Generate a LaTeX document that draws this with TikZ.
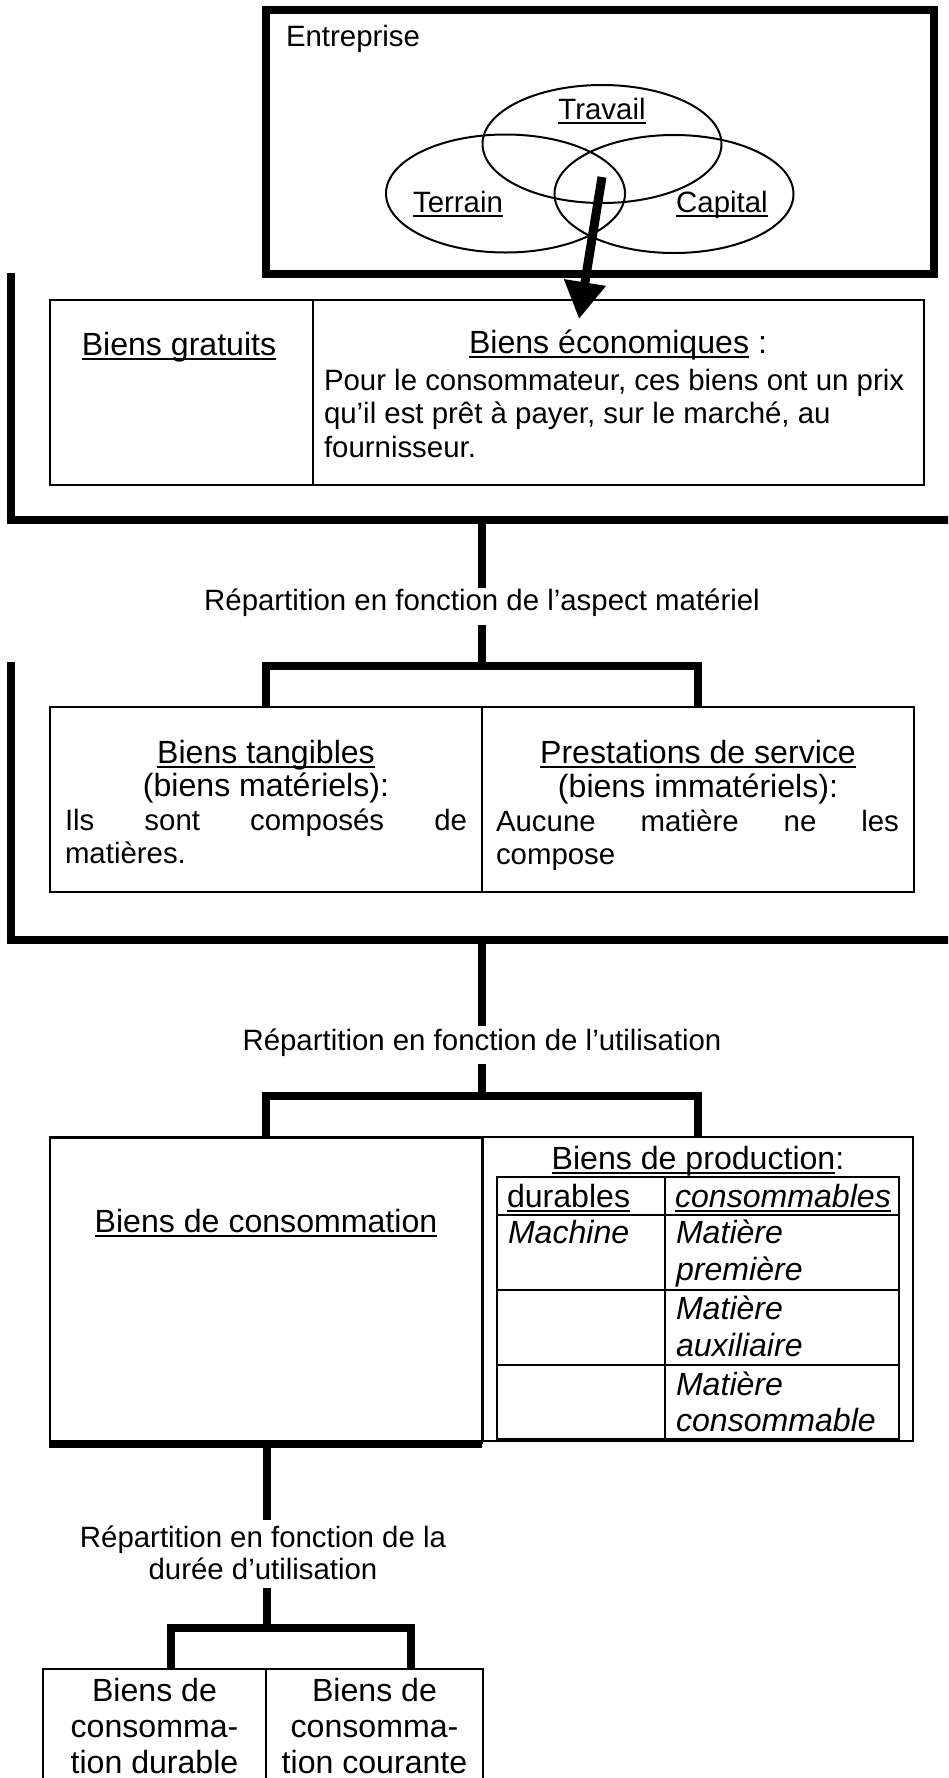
\documentclass[tikz,border=0pt]{standalone}
\usepackage{fontspec}
\setmainfont{Liberation Sans}
\usetikzlibrary{arrows.meta,shapes.geometric}
\newsavebox\ulbox
\newcommand{\ulw}[1]{\sbox\ulbox{#1}\rlap{\vrule height -2.6pt depth 5.0pt width \wd\ulbox}\usebox\ulbox}
\newcommand{\fsm}{\fontsize{29.4pt}{33.5pt}\selectfont}
\newcommand{\fbg}{\fontsize{32.1pt}{37pt}\selectfont}
\begin{document}
\begin{tikzpicture}[x=1pt,y=-1pt,
  heavy/.style={line width=8pt},
  frame/.style={draw, inner sep=0pt, outer sep=0pt, line width=2.6pt},
  divline/.style={line width=1.7pt},
  ell/.style={draw, ellipse, inner sep=0pt, line width=2pt, minimum width=239pt, minimum height=118pt},
  txt/.style={inner sep=0pt, outer sep=0pt, anchor=base},
  txtl/.style={inner sep=0pt, outer sep=0pt, anchor=base west},
  small/.style={font=\fsm},
  big/.style={font=\fbg}]
\useasboundingbox (0,0) rectangle (948,1778);
\fill[white] (0,0) rectangle (948,1778);
\clip (0,0) rectangle (948,1778);

% Entreprise
\node[frame, line width=7.5pt, minimum width=668pt, minimum height=264pt] (ent) at (600,142) {};
\node[txtl, small] (entl) at (286,46) {Entreprise};
\node[ell] (trav) at (602,144) {};
\node[ell] (terr) at (505.5,193.5) {};
\node[ell] (capi) at (674,194) {};
\node[txt, small] (travl) at (602,119) {\ulw{Travail}};
\node[txt, small] (terrl) at (458,212) {\ulw{Terrain}};
\node[txt, small] (capil) at (722,212) {\ulw{Capital}};

% Box 1
\node[frame, minimum width=874pt, minimum height=185pt] (b1) at (487,392.5) {};
\draw[divline] (313,300) -- (313,485);
\node[txt, big] (bg) at (179,355) {\ulw{Biens gratuits}};
\node[txt, big] (be) at (618,353) {\ulw{Biens économiques} :};
\node[txtl, small] (be1) at (324,390) {Pour le consommateur, ces biens ont un prix};
\node[txtl, small] (be2) at (324,423) {qu’il est prêt à payer, sur le marché, au};
\node[txtl, small] (be3) at (324,457) {fournisseur.};

% arrow
\coordinate (arrs) at (602,177);
\coordinate (arrt) at (579,319);
\draw[line width=9pt, -{Triangle[length=37pt,width=40pt]}] (arrs) -- (arrt);

% bracket 1
\coordinate (k1a) at (11,273);
\coordinate (k1b) at (11,520);
\coordinate (k1c) at (960,520);
\draw[heavy] (k1a) -- (k1b) -- (k1c);
\node[txt, small] (r1) at (482,610) {Répartition en fonction de l’aspect matériel};
\coordinate (s1a) at (482,520);
\coordinate (s1b) at (482,588);
\coordinate (s1c) at (482,625);
\coordinate (s1d) at (482,666);
\draw[heavy] (s1a) -- (s1b);
\draw[heavy] (s1c) -- (s1d);
\coordinate (l1a) at (266,707);
\coordinate (l1b) at (266,666);
\coordinate (l1c) at (698,666);
\coordinate (l1d) at (698,707);
\draw[heavy] (l1a) -- (l1b) -- (l1c) -- (l1d);

% Box 2
\node[frame, minimum width=864pt, minimum height=185pt] (b2) at (482,799.5) {};
\draw[divline] (482,707) -- (482,892);
\node[txt, big] (bt) at (266,763) {\ulw{Biens tangibles}};
\node[txt, big] (bt2) at (266,796) {(biens matériels):};
\node[txtl, small] (bt3) at (65,830) {\makebox[402pt][s]{Ils sont composés de}};
\node[txtl, small] (bt4) at (65,863) {matières.};
\node[txt, big] (ps) at (698,763) {\ulw{Prestations de service}};
\node[txt, big] (ps2) at (698,797) {(biens immatériels):};
\node[txtl, small] (ps3) at (496,831) {\makebox[403pt][s]{Aucune matière ne les}};
\node[txtl, small] (ps4) at (496,864) {compose};

% bracket 2
\coordinate (k2a) at (11,662);
\coordinate (k2b) at (11,940);
\coordinate (k2c) at (960,940);
\draw[heavy] (k2a) -- (k2b) -- (k2c);
\node[txt, small] (r2) at (482,1050) {Répartition en fonction de l’utilisation};
\coordinate (s2a) at (482,940);
\coordinate (s2b) at (482,1026);
\coordinate (s2c) at (482,1064);
\coordinate (s2d) at (482,1096);
\draw[heavy] (s2a) -- (s2b);
\draw[heavy] (s2c) -- (s2d);
\coordinate (l2a) at (266,1137);
\coordinate (l2b) at (266,1096);
\coordinate (l2c) at (698,1096);
\coordinate (l2d) at (698,1137);
\draw[heavy] (l2a) -- (l2b) -- (l2c) -- (l2d);

% Box 3 left
\node[frame, minimum width=432pt, minimum height=305pt] (bc) at (266,1290) {};
\draw[heavy] (49,1444) -- (482,1444);
\node[txt, big] (bcl) at (266,1232) {\ulw{Biens de consommation}};

% Production
\node[frame, line width=1.8pt, minimum width=430pt, minimum height=304pt] (bp) at (698,1289) {};
\node[txt, big] (bpl) at (698,1169) {\ulw{Biens de production}:};
\node[frame, line width=2.4pt, minimum width=402pt, minimum height=262pt] (tab) at (698,1308) {};
\draw[line width=2.4pt] (665,1177) -- (665,1439);
\draw[line width=2.4pt] (497,1215) -- (899,1215);
\draw[line width=2.4pt] (497,1290) -- (899,1290);
\draw[line width=2.4pt] (497,1365) -- (899,1365);
\node[txtl, big] (t1) at (507,1207) {\ulw{durables}};
\node[txtl, big] (t2) at (675,1207) {\itshape\ulw{consommables}};
\node[txtl, big] (t3) at (508,1243) {\itshape Machine};
\node[txtl, big] (t4) at (676,1243) {\itshape Matière};
\node[txtl, big] (t5) at (676,1280) {\itshape première};
\node[txtl, big] (t6) at (676,1319) {\itshape Matière};
\node[txtl, big] (t7) at (676,1356) {\itshape auxiliaire};
\node[txtl, big] (t8) at (676,1395) {\itshape Matière};
\node[txtl, big] (t9) at (676,1431) {\itshape consommable};

% bracket 3
\coordinate (s3a) at (267,1448);
\coordinate (s3b) at (267,1520);
\coordinate (s3c) at (267,1588);
\coordinate (s3d) at (267,1628);
\draw[heavy] (s3a) -- (s3b);
\node[txt, small] (r3) at (263,1547) {Répartition en fonction de la};
\node[txt, small] (r3b) at (263,1579) {durée d’utilisation};
\draw[heavy] (s3c) -- (s3d);
\coordinate (l3a) at (171,1669);
\coordinate (l3b) at (171,1628);
\coordinate (l3c) at (411,1628);
\coordinate (l3d) at (411,1669);
\draw[heavy] (l3a) -- (l3b) -- (l3c) -- (l3d);

% Box 4
\node[frame, minimum width=440pt, minimum height=160pt] (b4) at (263,1749) {};
\draw[divline] (266,1669) -- (266,1800);
\node[txt, big] (d1) at (154.5,1701) {Biens de};
\node[txt, big] (d2) at (154.5,1737) {consomma-};
\node[txt, big] (d3) at (154.5,1773) {tion durable};
\node[txt, big] (c1) at (374.5,1701) {Biens de};
\node[txt, big] (c2) at (374.5,1737) {consomma-};
\node[txt, big] (c3) at (374.5,1773) {tion courante};
\end{tikzpicture}
\end{document}
